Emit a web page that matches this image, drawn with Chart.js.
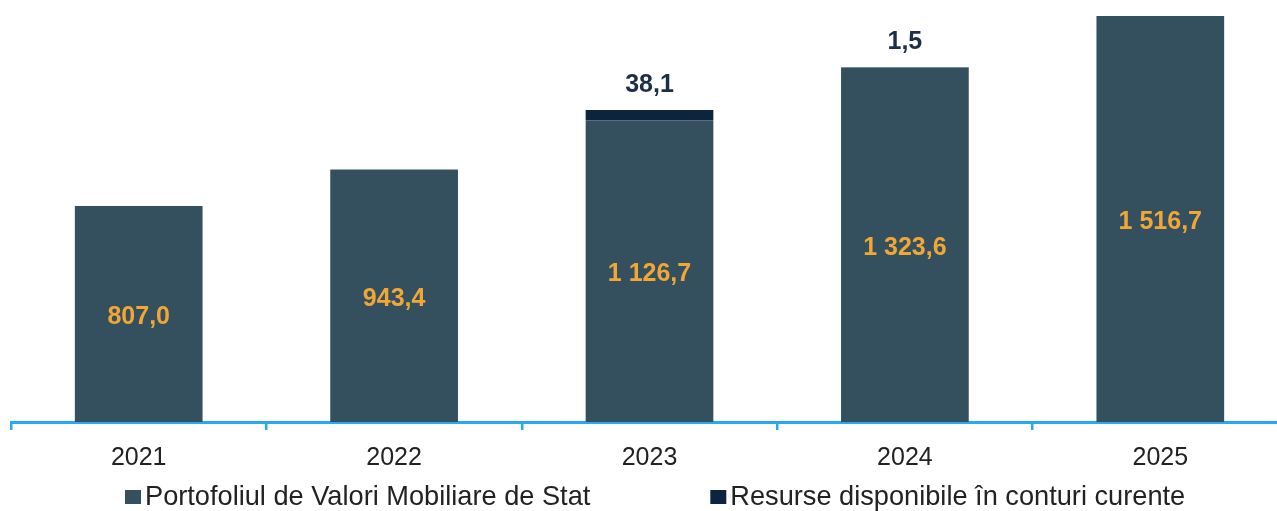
<!DOCTYPE html>
<html>
<head>
<meta charset="utf-8">
<script src="https://cdn.jsdelivr.net/npm/chart.js@4"></script>
<style>
  html, body { margin:0; padding:0; background:#fff; overflow:hidden; }
  #wrap { position:absolute; left:0; top:0; width:1289px; height:511px; }
</style>
</head>
<body>
<div id="wrap"><canvas id="myChart"></canvas></div>
<script>
// date
const years = ['2021', '2022', '2023', '2024', '2025'];
const portofoliu = [807.0, 943.4, 1126.7, 1323.6, 1516.7];
const resurse = [null, null, 38.1, 1.5, null];
const seriesNames = ['Portofoliul de Valori Mobiliare de Stat', 'Resurse disponibile în conturi curente'];

const FONT = '"Liberation Sans", Arial, sans-serif';

function fmt(v){
    const parts = v.toFixed(1).split('.');
    return parts[0].replace(/\B(?=(\d{3})+(?!\d))/g, ' ') + ',' + parts[1];
}

// etichete pe bare
const labelsPlugin = {
    id: 'valueLabels',
    afterDatasetsDraw(chart){
        const ctx = chart.ctx;
        ctx.save();
        ctx.textAlign = 'center';
        ctx.textBaseline = 'middle';
        ctx.font = 'bold 25px ' + FONT;
        ctx.fillStyle = '#f2a735';
        chart.getDatasetMeta(0).data.forEach((bar, i) => {
            ctx.fillText(fmt(portofoliu[i]), bar.x, (bar.y + bar.base) / 2 + 3);
        });
        ctx.fillStyle = '#1b3048';
        chart.getDatasetMeta(1).data.forEach((bar, i) => {
            if (resurse[i] == null) return;
            ctx.fillText(fmt(resurse[i]), bar.x, bar.y - 25);
        });
        ctx.restore();
    }
};

// legenda
const legendPlugin = {
    id: 'bottomLegend',
    afterDraw(chart){
        const ctx = chart.ctx;
        const cy = 497;
        let x = 125;
        ctx.save();
        ctx.font = '27.2px ' + FONT;
        ctx.textBaseline = 'middle';
        ctx.textAlign = 'left';
        chart.data.datasets.forEach((ds) => {
            ctx.fillStyle = ds.backgroundColor;
            ctx.fillRect(x, cy - 7, 16, 14);
            ctx.fillStyle = '#222';
            ctx.fillText(ds.label, x + 20, cy + 1);
            x += 20 + ctx.measureText(ds.label).width + 120;
        });
        ctx.restore();
    }
};

var ctx = document.getElementById('myChart');
var myChart = new Chart(ctx, {
    type: 'bar',
    data: {
        labels: years,
        datasets: [{
            label: seriesNames[0],
            data: portofoliu,
            backgroundColor: '#34505f',
            borderWidth: 0,
            categoryPercentage: 0.5,
            barPercentage: 1
        }, {
            label: seriesNames[1],
            data: resurse,
            backgroundColor: '#0c243e',
            borderWidth: 0,
            categoryPercentage: 0.5,
            barPercentage: 1
        }]
    },
    options: {
        responsive: true,
        maintainAspectRatio: false,
        animation: false,
        layout: { padding: { left: 11, right: 1, top: 0, bottom: 25 } },
        plugins: {
            legend: { display: false },
            tooltip: { enabled: false }
        },
        scales: {
            x: {
                stacked: true,
                grid: {
                    display: true,
                    offset: true,
                    drawOnChartArea: false,
                    drawTicks: true,
                    tickLength: 8,
                    color: '#28a9f0',
                    lineWidth: 2.5
                },
                border: { display: true, color: '#28a9f0', width: 3 },
                ticks: {
                    color: '#222',
                    padding: 13,
                    font: { family: FONT, size: 25 }
                }
            },
            y: {
                stacked: true,
                display: false,
                min: 0,
                max: 1576
            }
        }
    },
    plugins: [labelsPlugin, legendPlugin]
});
</script>
</body>
</html>
